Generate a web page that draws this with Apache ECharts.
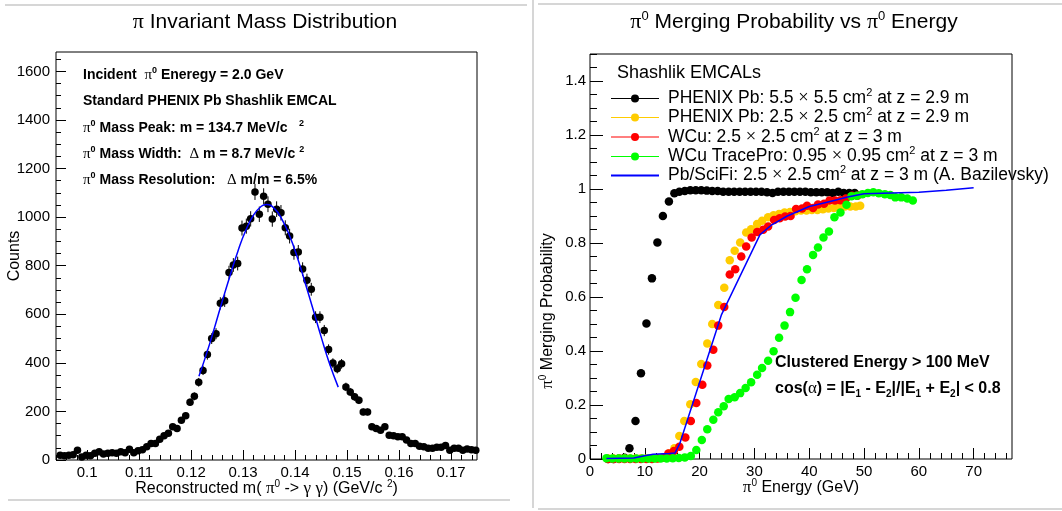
<!DOCTYPE html>
<html lang="en">
<head>
<meta charset="UTF-8">
<title>pi0 mass and merging probability</title>
<script src="https://cdn.jsdelivr.net/npm/echarts@6/dist/echarts.min.js"></script>
<style>
  body { margin: 0; background: #fff; }
  #main { width: 1062px; height: 511px; }
</style>
</head>
<body>
<div id="main"></div>
<script>
// ---- left panel: pi0 invariant mass histogram ----
const massBinStart = 0.0948;   // centre of first bin (GeV/c2)
const massBinWidth = 0.000833;
const massCounts = [
  20, 18, 20, 22, 40, 12, 20, 18, 28, 34, 25, 28, 30, 28, 34, 30, 44, 30, 38,
  42, 55, 68, 68, 85, 100, 110, 137, 130, 164, 182, 238, 262, 320, 369, 434, 500, 520,
  645, 656, 772, 803, 809, 955, 963, 993, 1104,
  1012, 1086, 1053, 992, 1033, 1018, 956, 922, 854, 856, 786, 740, 703, 588, 588, 533,
  455, 399, 376, 396, 301, 280, 260, 246, 198, 198, 137, 130, 123, 137, 102, 100, 96,
  96, 82, 68, 68, 57, 55, 48, 48, 52, 52, 60, 40, 48, 48, 40, 45, 42, 40
];
// gaussian fit as drawn (blue)
const fitMass = [0.1215, 0.1230, 0.1245, 0.1260, 0.1275, 0.1290, 0.1305, 0.1320, 0.1335, 0.1345,
  0.1360, 0.1375, 0.1390, 0.1405, 0.1420, 0.1435, 0.1450, 0.1465, 0.1483];
const fitCounts = [345, 440, 545, 655, 760, 860, 945, 1008, 1045, 1052,
  1036, 990, 920, 830, 725, 618, 508, 405, 300];
const massTicks = [0.1, 0.11, 0.12, 0.13, 0.14, 0.15, 0.16, 0.17];
const countTicks = [0, 200, 400, 600, 800, 1000, 1200, 1400, 1600];

// ---- right panel: merging probability vs energy ----
const phenix55 = [[3.3,0],[4.3,0],[5.3,0.002],[6.3,0.005],[7.2,0.04],[8.3,0.141],[9.3,0.318],
  [10.3,0.502],[11.3,0.669],[12.3,0.802],[13.3,0.9],[14.4,0.954],[15.4,0.984],[16.3,0.99],
  [17.3,0.993],[18.3,0.995],[19.3,0.995],[20.3,0.995],[21.3,0.994],[22.3,0.993],[23.3,0.993],
  [24.3,0.99],[25.3,0.99],[26.3,0.99],[27.3,0.99],[28.3,0.99],[29.3,0.99],[30.3,0.99],[31.3,0.99],
  [32.3,0.988],[33.3,0.985],[34.3,0.99],[35.3,0.99],[36.3,0.99],[37.3,0.99],[38.3,0.99],[39.3,0.99],
  [40.3,0.988],[41.3,0.988],[42.3,0.988],[43.3,0.988],[44.3,0.985],[45.3,0.99],[46.3,0.985],
  [47.3,0.985],[48.3,0.985]];
const phenix25 = [[3.3,0.002],[4.3,0.002],[5.3,0.002],[6.3,0.002],[7.3,0.002],[8.3,0.002],[9.3,0.002],
  [10.3,0.002],[11.3,0.002],[12.3,0.003],[13.3,0.005],[14.4,0.02],[15.4,0.04],[16.3,0.085],[17.2,0.141],
  [18.3,0.203],[19.3,0.285],[20.3,0.352],[21.4,0.428],[22.3,0.5],[23.4,0.57],[24.5,0.634],[25.5,0.736],
  [26.4,0.771],[27.4,0.802],[28.5,0.839],[29.4,0.851],[30.5,0.87],[31.4,0.882],[32.5,0.895],[33.5,0.903],
  [34.5,0.907],[35.5,0.913],[36.5,0.915],[37.5,0.918],[38.5,0.92],[39.5,0.92],[40.5,0.922],[41.5,0.922],
  [42.5,0.925],[43.5,0.928],[44.5,0.93],[45.5,0.933],[46.5,0.935],[47.5,0.935],[48.5,0.935],[49.3,0.938]];
const wcu25 = [[3.3,0],[4.3,0],[5.3,0],[6.3,0],[7.3,0],[8.3,0],[9.3,0],[10.3,0],[11.3,0],[12.3,0.002],
  [13.3,0.005],[14.3,0.02],[15.3,0.03],[16.3,0.045],[17.4,0.08],[18.4,0.141],[19.4,0.207],[20.5,0.275],
  [21.4,0.346],[22.5,0.405],[23.4,0.494],[24.5,0.563],[25.5,0.683],[26.5,0.703],[27.6,0.75],[28.5,0.787],
  [29.5,0.82],[30.5,0.841],[31.6,0.849],[32.5,0.861],[33.6,0.885],[34.6,0.892],[35.6,0.898],[36.6,0.9],
  [37.6,0.926],[38.7,0.928],[39.6,0.938],[40.7,0.93],[41.6,0.943],[42.7,0.945],[43.7,0.957],[44.7,0.957],
  [45.7,0.958],[46.7,0.965],[47.8,0.975],[48.8,0.975]];
const wcuTrace = [[3.0,0.003],[4.1,0.002],[5.2,0.002],[6.3,0.002],[7.4,0.002],[8.5,0.002],[9.6,0.002],
  [10.7,0.002],[11.8,0.002],[12.9,0.002],[14.0,0.002],[15.1,0.003],[16.2,0.004],[17.3,0.006],[18.4,0.011],
  [19.4,0.033],[20.4,0.07],[21.4,0.11],[22.5,0.145],[23.4,0.173],[24.4,0.195],[25.3,0.222],[26.4,0.229],
  [27.4,0.244],[28.4,0.263],[29.4,0.284],[30.5,0.312],[31.4,0.337],[32.5,0.364],[33.5,0.399],[34.5,0.449],
  [35.5,0.494],[36.5,0.544],[37.5,0.597],[38.6,0.663],[39.6,0.703],[40.7,0.756],[41.6,0.783],[42.6,0.82],
  [43.6,0.843],[44.6,0.895],[45.7,0.913],[46.8,0.942],[47.7,0.973],[48.7,0.975],[49.7,0.981],[50.7,0.985],
  [51.7,0.988],[52.7,0.984],[53.8,0.981],[54.8,0.978],[55.7,0.969],[56.8,0.969],[57.9,0.965],[58.9,0.957]];
const pbScifi = [[3,0.002],[8,0.004],[10,0.012],[11.5,0.018],[14.5,0.02],[15.5,0.022],[16.4,0.058],
  [24,0.535],[31,0.83],[33,0.865],[36,0.9],[40,0.935],[44,0.955],[47,0.97],[50,0.982],[55,0.985],
  [60,0.988],[65,0.995],[70,1.005]];
const energyTicks = [0, 10, 20, 30, 40, 50, 60, 70];
const probTicks = [0, 0.2, 0.4, 0.6, 0.8, 1, 1.2, 1.4];

const legendNames = [
  'PHENIX Pb: 5.5 {g|×} 5.5 cm{sup|2} at z = 2.9 m',
  'PHENIX Pb: 2.5 {g|×} 2.5 cm{sup|2} at z = 2.9 m',
  'WCu: 2.5 {g|×} 2.5 cm{sup|2} at z = 3 m',
  'WCu TracePro: 0.95 {g|×} 0.95 cm{sup|2} at z = 3 m',
  'Pb/SciFi: 2.5 {g|×} 2.5 cm{sup|2} at z = 3 m (A. Bazilevsky)'
];
const seriesColors = ['#000000', '#ffcc00', '#ff0000', '#00ff00', '#0000ff'];

const SANS = '"Liberation Sans", Arial, Helvetica, sans-serif';
const SERIF = '"Liberation Serif", "DejaVu Serif", serif';

function richFor(size, bold) {
  const w = bold ? 'bold' : 'normal';
  const small = Math.round(size * 0.62);
  return {
    g: { fontFamily: SERIF, fontSize: size + 1, fontWeight: 'normal', lineHeight: size + 4 },
    sup: { fontFamily: SANS, fontSize: small, fontWeight: w, verticalAlign: 'top', lineHeight: small + 1 },
    sub: { fontFamily: SANS, fontSize: small, fontWeight: w, verticalAlign: 'bottom', lineHeight: small + 1 }
  };
}

function txt(x, y, text, size, opts) {
  opts = opts || {};
  return {
    type: 'text', x: x, y: y, rotation: opts.rotation || 0, silent: true,
    style: {
      text: text, fill: '#000', fontFamily: SANS, fontSize: size,
      fontWeight: opts.bold ? 'bold' : 'normal', lineHeight: size + 4,
      align: opts.align || 'left', verticalAlign: 'middle',
      rich: richFor(size, opts.bold)
    }
  };
}

function minorList(from, to, step, digits) {
  const out = [];
  for (let v = from; v <= to + step / 2; v += step) out.push(+v.toFixed(digits));
  return out;
}

function axisPair(dim, grid, min, max, major, minor, majorLen, minorLen, extra) {
  const pos = dim === 'x' ? 'bottom' : 'left';
  const main = Object.assign({
    type: 'value', gridIndex: grid, min: min, max: max, position: pos,
    axisLine: { show: false },
    axisTick: { show: true, inside: true, length: majorLen, customValues: major, lineStyle: { color: '#000', width: 1 } },
    axisLabel: {
      customValues: major, color: '#000', fontFamily: SANS, fontSize: 15, margin: dim === 'x' ? 5 : 6,
      formatter: v => String(v)
    },
    splitLine: { show: false },
    nameMoveOverlap: false
  }, extra || {});
  const sub = {
    type: 'value', gridIndex: grid, min: min, max: max, position: pos,
    axisLine: { show: false },
    axisTick: { show: true, inside: true, length: minorLen, customValues: minor, lineStyle: { color: '#000', width: 1 } },
    axisLabel: { show: false }, splitLine: { show: false }
  };
  return [main, sub];
}

const chart = echarts.init(document.getElementById('main'));

const leftX = axisPair('x', 0, 0.094, 0.175, massTicks, minorList(0.094, 0.174, 0.002, 3), 10, 5, {
  name: 'Reconstructed m( {g|π}{sup|0} -> {g|γ γ}) (GeV/c {sup|2})',
  nameLocation: 'middle', nameGap: 19,
  nameTextStyle: { color: '#000', fontFamily: SANS, fontSize: 16, lineHeight: 20, rich: richFor(16, false) }
});
const leftY = axisPair('y', 0, 0, 1680, countTicks, minorList(0, 1650, 50, 0), 10, 5, {
  name: 'Counts', nameLocation: 'middle', nameGap: 33,
  nameTextStyle: { color: '#000', fontFamily: SANS, fontSize: 16 }
});
const rightX = axisPair('x', 1, 0, 77, energyTicks, minorList(0, 76, 2, 0), 11, 6, {
  name: '{g|π}{sup|0} Energy (GeV)', nameLocation: 'middle', nameGap: 19,
  nameTextStyle: { color: '#000', fontFamily: SANS, fontSize: 16, lineHeight: 20, rich: richFor(16, false) }
});
const rightY = axisPair('y', 1, 0, 1.5, probTicks, minorList(0, 1.5, 0.05, 2), 13, 7);
rightY[0].axisLabel.margin = 4;

const massPoints = massCounts.map((c, i) => [massBinStart + i * massBinWidth, c]);
const massErrors = massCounts.map((c, i) => [massBinStart + i * massBinWidth, c - Math.sqrt(c), c + Math.sqrt(c)]);

function dotSeries(data, color, z) {
  return {
    type: 'scatter', xAxisIndex: 2, yAxisIndex: 2, data: data, symbol: 'circle', symbolSize: 8.5,
    itemStyle: { color: color, opacity: 1 }, z: z, silent: true
  };
}

// legend (ROOT style box-less legend)
const legendGraphics = [txt(617, 73, 'Shashlik EMCALs', 18)];
const legendY = [98.5, 117.5, 137, 156.5, 175.5];
legendNames.forEach((name, i) => {
  legendGraphics.push({
    type: 'line', silent: true,
    shape: { x1: 611, y1: legendY[i], x2: 659, y2: legendY[i] },
    style: { stroke: seriesColors[i], lineWidth: i === 4 ? 2 : 1.2 }
  });
  if (i < 4) {
    legendGraphics.push({
      type: 'circle', silent: true, shape: { cx: 635, cy: legendY[i], r: 4 },
      style: { fill: seriesColors[i] }
    });
  }
  legendGraphics.push(txt(668, legendY[i], name, 17.5));
});

const frameStyle = { stroke: '#c8c8c8', lineWidth: 1.5 };
const option = {
  animation: false,
  backgroundColor: '#fff',
  grid: [
    { left: 56, top: 52, width: 421, height: 408, show: true, borderColor: '#000', borderWidth: 1 },
    { left: 590, top: 54, width: 422, height: 405, show: true, borderColor: '#000', borderWidth: 1 }
  ],
  xAxis: [leftX[0], leftX[1], rightX[0], rightX[1]],
  yAxis: [leftY[0], leftY[1], rightY[0], rightY[1]],
  series: [
    {
      type: 'custom', xAxisIndex: 0, yAxisIndex: 0, data: massErrors, silent: true, z: 3,
      renderItem: function (params, api) {
        const lo = api.coord([api.value(0), api.value(1)]);
        const hi = api.coord([api.value(0), api.value(2)]);
        return { type: 'line', shape: { x1: lo[0], y1: lo[1], x2: hi[0], y2: hi[1] }, style: { stroke: '#000', lineWidth: 1 } };
      }
    },
    {
      type: 'scatter', xAxisIndex: 0, yAxisIndex: 0, data: massPoints, symbol: 'circle', symbolSize: 7.5,
      itemStyle: { color: '#000', opacity: 1 }, z: 4, silent: true
    },
    {
      type: 'line', xAxisIndex: 0, yAxisIndex: 0, data: fitMass.map((m, i) => [m, fitCounts[i]]),
      smooth: true, showSymbol: false, lineStyle: { color: '#0000ff', width: 1.5 }, z: 5, silent: true
    },
    dotSeries(phenix55, seriesColors[0], 3),
    dotSeries(phenix25, seriesColors[1], 4),
    dotSeries(wcu25, seriesColors[2], 5),
    dotSeries(wcuTrace, seriesColors[3], 6),
    {
      type: 'line', xAxisIndex: 2, yAxisIndex: 2, data: pbScifi, showSymbol: false,
      lineStyle: { color: '#0000ff', width: 1.5 }, z: 7, silent: true
    }
  ],
  graphic: [
    // pad frames
    { type: 'line', shape: { x1: 5, y1: 5, x2: 527, y2: 5 }, style: frameStyle, silent: true },
    { type: 'line', shape: { x1: 8, y1: 500, x2: 510, y2: 500 }, style: frameStyle, silent: true },
    { type: 'line', shape: { x1: 533, y1: 0, x2: 533, y2: 508 }, style: frameStyle, silent: true },
    { type: 'line', shape: { x1: 538, y1: 4, x2: 1062, y2: 4 }, style: frameStyle, silent: true },
    { type: 'line', shape: { x1: 538, y1: 509, x2: 1062, y2: 509 }, style: frameStyle, silent: true },
    // titles
    txt(265, 22, '{g|π} Invariant Mass Distribution', 21, { align: 'center' }),
    txt(794, 22, '{g|π}{sup|0} Merging Probability vs {g|π}{sup|0} Energy', 21, { align: 'center' }),
    // left annotations
    txt(83, 75, 'Incident  {g|π}{sup|0} Eneregy = 2.0 GeV', 14, { bold: true }),
    txt(83, 101.5, 'Standard PHENIX Pb Shashlik EMCAL', 14, { bold: true }),
    txt(83, 128, '{g|π}{sup|0} Mass Peak: m = 134.7 MeV/c   {sup|2}', 14, { bold: true }),
    txt(83, 154, '{g|π}{sup|0} Mass Width:  {g|Δ} m = 8.7 MeV/c {sup|2}', 14, { bold: true }),
    txt(83, 180, '{g|π}{sup|0} Mass Resolution:   {g|Δ} m/m = 6.5%', 14, { bold: true }),
    // right annotations
    txt(775, 363, 'Clustered Energy > 100 MeV', 16, { bold: true }),
    txt(775, 389, 'cos({g|α}) = |E{sub|1} - E{sub|2}|/|E{sub|1} + E{sub|2}| < 0.8', 16, { bold: true }),
    // right y axis title (ROOT places it off-centre)
    txt(548, 311, '{g|π}{sup|0} Merging Probability', 16, { align: 'center', rotation: Math.PI / 2 })
  ].concat(legendGraphics)
};

chart.setOption(option);
</script>
</body>
</html>
